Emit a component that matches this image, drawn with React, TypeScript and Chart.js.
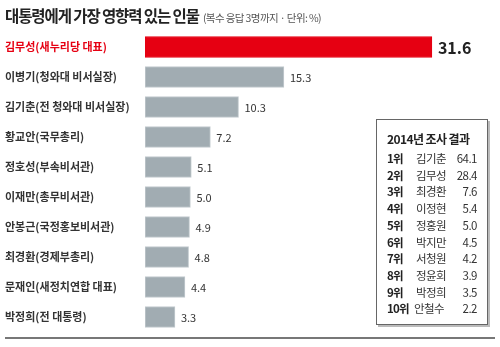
import React, { useEffect, useRef } from "react";
import { Chart, registerables } from "chart.js";
Chart.register(...registerables);

const categories = [
  "김무성(새누리당 대표)",
  "이병기(청와대 비서실장)",
  "김기춘(전 청와대 비서실장)",
  "황교안(국무총리)",
  "정호성(부속비서관)",
  "이재만(총무비서관)",
  "안봉근(국정홍보비서관)",
  "최경환(경제부총리)",
  "문재인(새정치연합 대표)",
  "박정희(전 대통령)",
];
const values = [31.6, 15.3, 10.3, 7.2, 5.1, 5.0, 4.9, 4.8, 4.4, 3.3];
const valueLabels = ["31.6", "15.3", "10.3", "7.2", "5.1", "5.0", "4.9", "4.8", "4.4", "3.3"];

const insetTitle = "2014년 조사 결과";
const insetRanks = ["1위", "2위", "3위", "4위", "5위", "6위", "7위", "8위", "9위", "10위"];
const insetNames = ["김기춘", "김무성", "최경환", "이정현", "정홍원", "박지만", "서청원", "정윤회", "박정희", "안철수"];
const insetValues = ["64.1", "28.4", "7.6", "5.4", "5.0", "4.5", "4.2", "3.9", "3.5", "2.2"];

const title = "대통령에게 가장 영향력 있는 인물";
const subtitle = "(복수 응답 3명까지 · 단위: %)";

const RED = "#e60012";
const GRAY = "#a1acb2";
const FONT = "'Noto Sans CJK KR', 'Noto Sans', sans-serif";

const valueLabelPlugin = {
  id: "valueLabels",
  afterDatasetsDraw(chart: any) {
    const ctx = chart.ctx;
    const meta = chart.getDatasetMeta(0);
    ctx.save();
    ctx.textBaseline = "middle";
    ctx.textAlign = "left";
    meta.data.forEach((bar: any, i: number) => {
      if (i === 0) {
        ctx.font = `bold 16px ${FONT}`;
        ctx.fillStyle = "#222";
      } else {
        ctx.font = `11px ${FONT}`;
        ctx.fillStyle = "#333";
      }
      ctx.fillText(valueLabels[i], bar.x + 6, bar.y + 1);
    });
    ctx.restore();
  },
};

export default function App() {
  const ref = useRef<HTMLCanvasElement | null>(null);
  useEffect(() => {
    if (!ref.current) return;
    const chart = new Chart(ref.current, {
      type: "bar",
      data: {
        labels: categories,
        datasets: [
          {
            data: values,
            backgroundColor: values.map((_, i) => (i === 0 ? RED : GRAY)),
            borderColor: values.map((_, i) => (i === 0 ? RED : "#c3cbcf")),
            borderWidth: 1,
            borderSkipped: false,
            barThickness: 21,
          },
        ],
      },
      options: {
        indexAxis: "y",
        animation: false,
        responsive: false,
        layout: { padding: { left: 5, right: 10, top: 32, bottom: 15 } },
        plugins: { legend: { display: false }, tooltip: { enabled: false }, title: { display: false } },
        scales: {
          x: { display: false, min: 0, max: 38 },
          y: {
            grid: { display: false },
            border: { display: false },
            afterFit: (scale: any) => {
              scale.width = 140;
            },
            ticks: {
              crossAlign: "far",
              color: (c: any) => (c.index === 0 ? RED : "#333"),
              font: { family: FONT, size: 11, weight: "bold" },
            },
          },
        },
      },
      plugins: [valueLabelPlugin],
    } as any);
    return () => chart.destroy();
  }, []);

  return (
    <div style={{ position: "fixed", left: 0, top: 0, width: 500, height: 347, background: "#fff", fontFamily: FONT }}>
      <canvas ref={ref} width={500} height={347} style={{ position: "absolute", left: 0, top: 0 }} />
      <div style={{ position: "absolute", left: 5, top: 3, whiteSpace: "nowrap", color: "#222" }}>
        <span style={{ fontSize: 15.5, fontWeight: "bold", letterSpacing: -1.1 }}>{title}</span>
        <span style={{ fontSize: 10.5, color: "#555", marginLeft: 4, letterSpacing: -0.6 }}>{subtitle}</span>
      </div>
      <div
        style={{
          position: "absolute",
          left: 376,
          top: 119,
          width: 110,
          height: 204,
          border: "1px solid #666",
          background: "#fff",
          boxShadow: "2px 2px 0 #bbb",
          color: "#222",
          fontSize: 11.5,
        }}
      >
        <div style={{ position: "absolute", left: 10, top: 10, fontWeight: "bold", fontSize: 12, letterSpacing: -0.6 }}>
          {insetTitle}
        </div>
        {insetRanks.map((r, i) => (
          <div key={r} style={{ position: "absolute", left: 10, top: 30 + i * 16.7, width: 90, height: 16, lineHeight: "16px" }}>
            <span style={{ fontWeight: "bold", letterSpacing: -0.8 }}>{r}</span>
            <span style={{ position: "absolute", left: i === 9 ? 27 : 29, color: "#333", letterSpacing: -0.6 }}>{insetNames[i]}</span>
            <span style={{ position: "absolute", right: 0, color: "#333", letterSpacing: -0.5 }}>{insetValues[i]}</span>
          </div>
        ))}
      </div>
      <div style={{ position: "absolute", left: 5, top: 337, width: 490, height: 2, background: "#777" }} />
    </div>
  );
}
